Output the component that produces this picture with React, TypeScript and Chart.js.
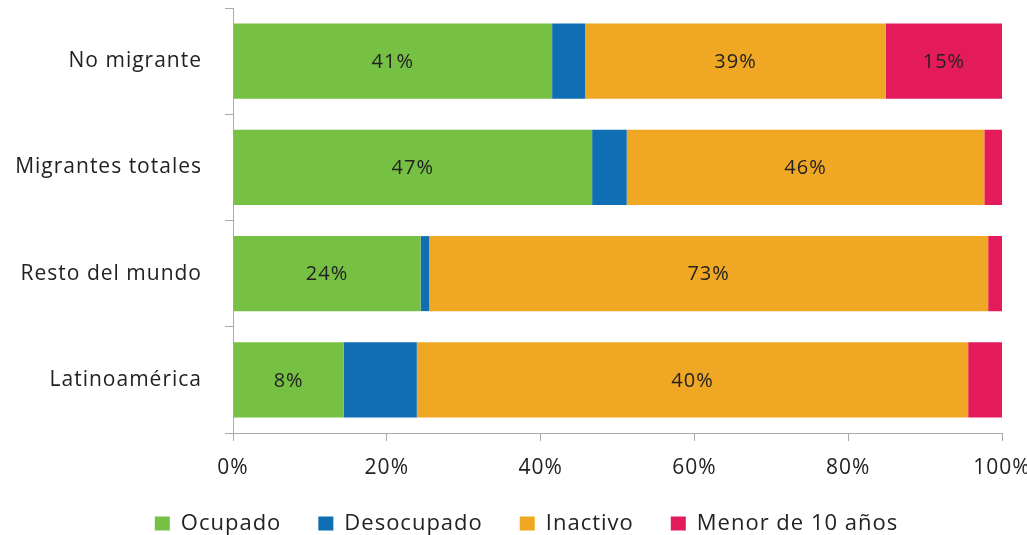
import React, { useEffect, useRef } from "react";
import { Chart, registerables } from "chart.js";

Chart.register(...registerables);

const categories = ["No migrante", "Migrantes totales", "Resto del mundo", "Latinoamérica"];
const ocupado = [41.5, 46.7, 24.4, 14.4];
const desocupado = [4.3, 4.5, 1.1, 9.5];
const inactivo = [39.1, 46.5, 72.7, 71.7];
const menor = [15.1, 2.3, 1.8, 4.4];
const ocupadoLabels = ["41%", "47%", "24%", "8%"];
const desocupadoLabels = ["", "", "", ""];
const inactivoLabels = ["39%", "46%", "73%", "40%"];
const menorLabels = ["15%", "", "", ""];
const xTicks = [0, 20, 40, 60, 80, 100];

const FONT = "'Open Sans', sans-serif";

const spacing = {
  id: "spacing",
  beforeUpdate(chart: any) {
    chart.ctx.letterSpacing = "1px";
  },
  beforeDraw(chart: any) {
    chart.ctx.letterSpacing = "1px";
  },
  afterLayout(chart: any) {
    const l = chart.legend;
    if (l) {
      l.left += 26;
      l.top -= 5.5;
      l.bottom -= 5.5;
    }
  },
};

const segLabels = {
  id: "segLabels",
  afterDatasetsDraw(chart: any) {
    const ctx = chart.ctx;
    ctx.save();
    ctx.letterSpacing = "1px";
    ctx.font = `20px ${FONT}`;
    ctx.fillStyle = "#222";
    ctx.textAlign = "center";
    ctx.textBaseline = "middle";
    chart.data.datasets.forEach((ds: any, i: number) => {
      const meta = chart.getDatasetMeta(i);
      meta.data.forEach((bar: any, j: number) => {
        const t = ds.segLabels[j];
        if (!t) return;
        ctx.fillText(t, (bar.x + bar.base) / 2, bar.y + 1);
      });
    });
    ctx.restore();
  },
};

export default function App() {
  const ref = useRef<HTMLCanvasElement>(null);
  useEffect(() => {
    const chart = new Chart(ref.current!, {
      type: "bar",
      data: {
        labels: categories,
        datasets: [
          { label: "Ocupado", data: ocupado, backgroundColor: "#76C043", segLabels: ocupadoLabels } as any,
          { label: "Desocupado", data: desocupado, backgroundColor: "#0F6EB4", segLabels: desocupadoLabels } as any,
          { label: "Inactivo", data: inactivo, backgroundColor: "#F0A824", segLabels: inactivoLabels } as any,
          { label: "Menor de 10 años", data: menor, backgroundColor: "#E31B5A", segLabels: menorLabels } as any,
        ],
      },
      options: {
        indexAxis: "y",
        animation: false,
        responsive: true,
        maintainAspectRatio: false,
        layout: { padding: { top: 8, right: 0, left: 0, bottom: 0 } },
        datasets: { bar: { categoryPercentage: 0.706, barPercentage: 1 } },
        scales: {
          x: {
            stacked: true,
            min: 0,
            max: 100,
            afterBuildTicks: (s: any) => {
              s.ticks = xTicks.map((v) => ({ value: v }));
            },
            afterFit: (s: any) => {
              s.height = 48;
              s.paddingLeft = 0;
              s.paddingRight = 25;
            },
            ticks: {
              callback: (v: any) => v + "%",
              font: { family: FONT, size: 21 },
              color: "#222",
              padding: 14,
            },
            grid: { drawOnChartArea: false, tickLength: 8, color: "#aaa" },
            border: { color: "#aaa" },
          },
          y: {
            stacked: true,
            afterFit: (s: any) => {
              s.width = 233;
              s.paddingTop = 0;
              s.paddingBottom = 0;
            },
            ticks: {
              font: { family: FONT, size: 21 },
              color: "#222",
              padding: 23,
            },
            grid: { drawOnChartArea: false, offset: true, tickLength: 8, color: "#aaa" },
            border: { color: "#aaa" },
          },
        },
        plugins: {
          legend: {
            position: "bottom",
            labels: {
              boxWidth: 15,
              boxHeight: 14,
              padding: 37,
              color: "#222",
              font: { family: FONT, size: 22 },
            },
          },
          tooltip: { enabled: false },
        },
      },
      plugins: [spacing, segLabels],
    });
    return () => chart.destroy();
  }, []);
  return (
    <div style={{ position: "fixed", left: 0, top: 0, width: 1027, height: 550 }}>
      <canvas ref={ref} />
    </div>
  );
}
